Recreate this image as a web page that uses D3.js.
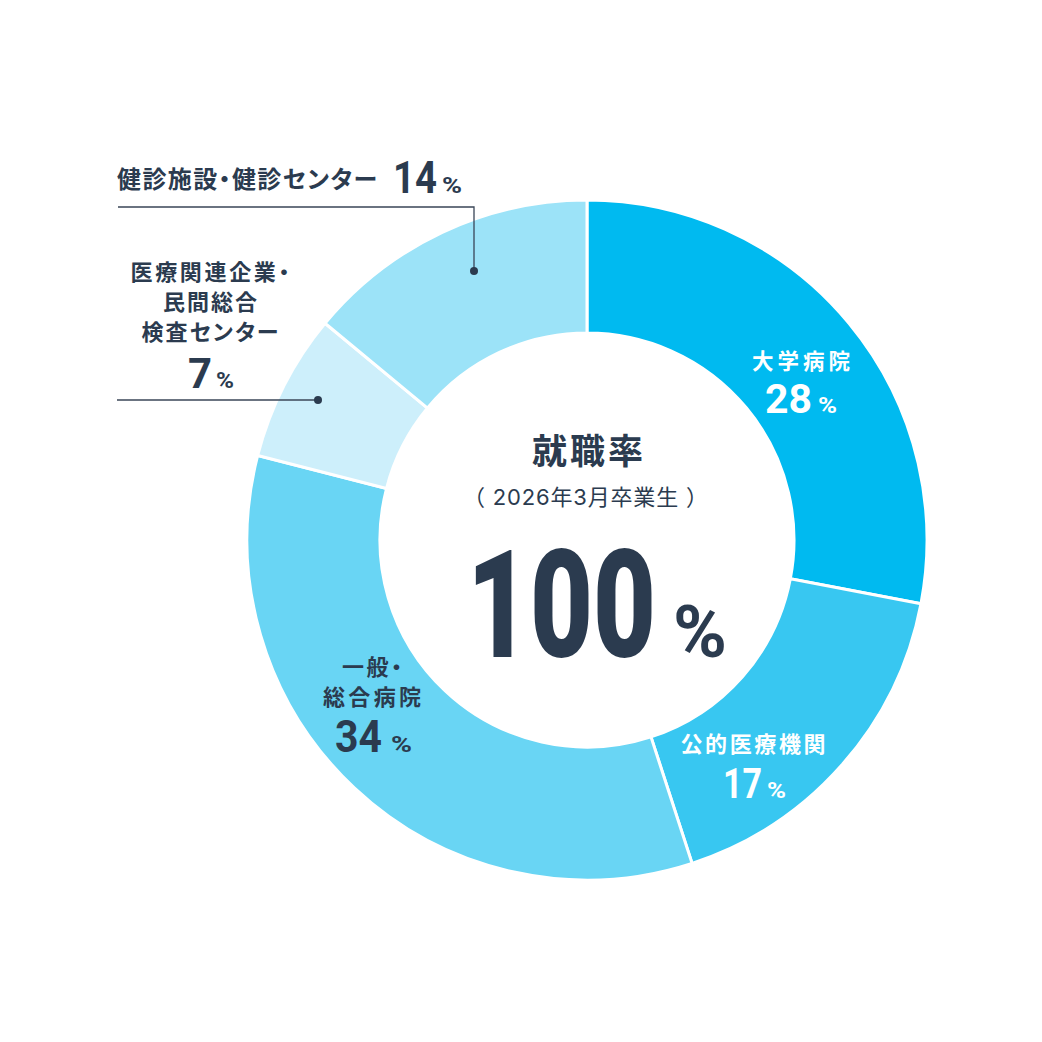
<!DOCTYPE html>
<html><head><meta charset="utf-8">
<script src="https://cdn.jsdelivr.net/npm/d3@7"></script>
<style>html,body{margin:0;padding:0;background:#fff;}svg{display:block;} .jp{font-feature-settings:"palt" 1;}</style>
</head><body>
<script>
// ---- data ----
const categories = ["大学病院", "公的医療機関", "一般・総合病院", "医療関連企業・民間総合検査センター", "健診施設・健診センター"];
const values = [28, 17, 34, 7, 14];
const labelLines = [["大学病院"], ["公的医療機関"], ["一般・", "総合病院"], ["医療関連企業・", "民間総合", "検査センター"], ["健診施設・健診センター"]];
const colors = ["#00baf0", "#38c7f1", "#69d5f4", "#cdeffb", "#9ce3f8"];
const centerTitle = "就職率";
const centerSub = "（ 2026年3月卒業生 ）";
const centerValue = 100;

// ---- layout ----
const W = 1042, H = 1042, cx = 587, cy = 540, R = 340, r = 207;
const dark = "#2b3b4f";
const JP = "'Noto Sans CJK JP','Noto Sans',sans-serif";
const NUM = "Roboto, 'Noto Sans', sans-serif";

const svg = d3.select("body").append("svg").attr("width", W).attr("height", H);
const g = svg.append("g").attr("transform", `translate(${cx},${cy})`);

const pie = d3.pie().sort(null).value(d => d)(values);
const arc = d3.arc().innerRadius(r).outerRadius(R);
g.selectAll("path").data(pie).join("path")
  .attr("d", arc).attr("fill", (d, i) => colors[i])
  .attr("stroke", "#fff").attr("stroke-width", 3);

// label layout (absolute positions)
const layout = [
  {x: 801, y: 369, lh: 0, fs: 21.5, tl: 98, color: "#fff", num: {x0: 765, w: 47, base: 413, fs: 40, px0: 818, pw: 19}},
  {x: 753, y: 752, lh: 0, fs: 22, tl: 145, color: "#fff", num: {x0: 723, w: 39, base: 798, fs: 43, px0: 767, pw: 19}},
  {x: 372, y: 675, lh: 30, fs: 22, tl: [60, 98], color: dark, num: {x0: 335, w: 47, base: 752, fs: 44, px0: 391, pw: 21}},
  {x: 210, y: 280, lh: 30, fs: 22, tl: [159, 94, 137], color: dark, num: {x0: 188, w: 24, base: 388, fs: 43, px0: 216, pw: 18}},
  {x: 117, y: 188, lh: 0, fs: 24, tl: 260, color: dark, anchor: "start", num: {x0: 393, w: 44, base: 193, fs: 45, px0: 442, pw: 20}}
];

// draw text scaled horizontally to a target width (transform keeps the real box)
function fitText(sel, txt, x, y, fs, w, fw, color) {
  const t = sel.append("text").attr("x", 0).attr("y", 0)
    .attr("font-family", NUM).attr("font-weight", fw).attr("font-size", fs)
    .attr("fill", color).text(txt);
  const nat = t.node().getComputedTextLength() || w;
  t.attr("transform", `translate(${x},${y}) scale(${w / nat},1)`);
  return t;
}
function drawNum(sel, n, color, valueText) {
  fitText(sel, valueText, n.x0, n.base, n.fs, n.w, n.fw || 700, color);
  fitText(sel, "%", n.px0, n.base, n.pfs || 22, n.pw, 700, color);
}

layout.forEach((L, i) => {
  const lg = svg.append("g");
  labelLines[i].forEach((line, j) => {
    const tl = Array.isArray(L.tl) ? L.tl[j] : L.tl;
    const anchor = L.anchor || "middle";
    const x0 = anchor === "middle" ? L.x - tl / 2 : L.x;
    lg.append("text").attr("class", "jp").attr("x", x0).attr("y", L.y + j * L.lh)
      .attr("font-family", JP).attr("font-weight", 700).attr("font-size", L.fs)
      .attr("textLength", tl).attr("lengthAdjust", "spacing")
      .attr("fill", L.color)
      .text(line);
  });
  drawNum(lg, L.num, L.color, String(values[i]));
});

// leader lines
const lineColor = "#3a4657";
const leaders = [
  {idx: 4, pts: [[118, 207], [474, 207], [474, 271]]},
  {idx: 3, pts: [[117, 400], [318, 400]]}
];
leaders.forEach(l => {
  svg.append("path").attr("d", d3.line()(l.pts)).attr("fill", "none")
    .attr("stroke", lineColor).attr("stroke-width", 1.3);
  const last = l.pts[l.pts.length - 1];
  svg.append("circle").attr("cx", last[0]).attr("cy", last[1]).attr("r", 4).attr("fill", dark);
});

// center text
svg.append("text").attr("class", "jp").attr("x", 532).attr("y", 464)
  .attr("font-family", JP).attr("font-weight", 700).attr("font-size", 35)
  .attr("textLength", 111).attr("lengthAdjust", "spacing")
  .attr("fill", dark).text(centerTitle);
svg.append("text").attr("x", 463).attr("y", 505)
  .attr("font-family", "Inter, 'Noto Sans CJK JP', sans-serif").attr("font-weight", 400).attr("font-size", 22)
  .attr("textLength", 245).attr("lengthAdjust", "spacing")
  .attr("fill", dark).text(centerSub);
drawNum(svg, {x0: 467, w: 189, base: 657, fs: 150, fw: 900, px0: 673, pw: 54, pfs: 72}, dark, String(centerValue));
</script>
</body></html>
